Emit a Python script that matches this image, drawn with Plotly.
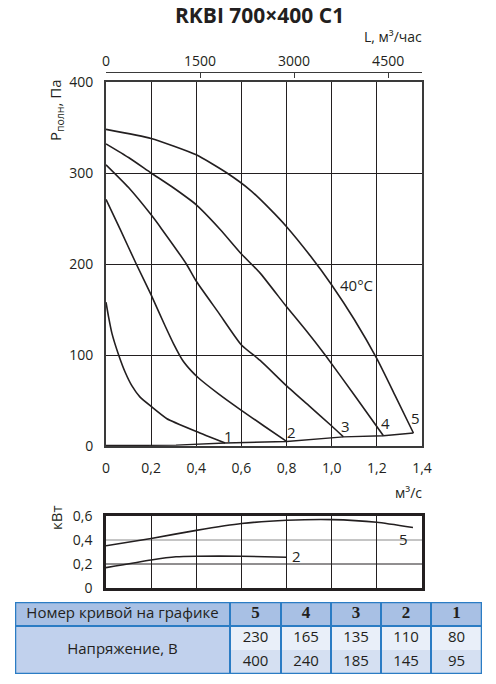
"""
RKBI 700x400 C1 - fan performance curves, power curves and voltage table
"""

import plotly.graph_objects as go

W, H = 496, 684

# pressure curves (flow m3/s -> total pressure Pa)
q1 = [0, 0.012, 0.026, 0.056, 0.085, 0.115, 0.15, 0.2, 0.27, 0.4, 0.528]
p1 = [158, 141, 124, 100, 81, 66, 54, 43.5, 30, 16, 3.3]

q2 = [0, 0.063, 0.134, 0.2, 0.26, 0.3, 0.34, 0.38, 0.41, 0.5, 0.595, 0.7, 0.8]
p2 = [271, 238, 200, 166, 133, 112, 94, 82, 74.7, 57, 40, 22, 5]

q3 = [0, 0.1, 0.2, 0.248, 0.356, 0.4, 0.5, 0.6, 0.683, 0.8, 0.9, 1.0, 1.052]
p3 = [309, 284, 254, 238, 200, 181, 146, 111, 94, 66, 44, 22, 10]

q4 = [0, 0.1, 0.2, 0.3, 0.4, 0.506, 0.6, 0.683, 0.8, 0.883, 0.971, 1.1, 1.229]
p4 = [332, 317, 300, 283.5, 265, 238, 211, 190, 153, 128, 100, 56, 11.3]

q5 = [0, 0.2, 0.4, 0.536, 0.64, 0.728, 0.8, 0.905, 1.0, 1.1, 1.2, 1.28, 1.362]
p5 = [348, 338, 320, 300, 281, 260, 241, 209, 177, 139, 96, 56, 14.3]

# line joining the curve ends
q_end = [0, 0.31, 0.528, 0.8, 1.052, 1.229, 1.362]
p_end = [0.5, 1, 3.3, 5, 10, 11.3, 14.3]

# power curves (kW)
qw5 = [0, 0.2, 0.4, 0.6, 0.8, 1.0, 1.2, 1.36]
kw5 = [0.352, 0.413, 0.48, 0.537, 0.564, 0.57, 0.548, 0.504]
qw2 = [0, 0.2, 0.31, 0.4, 0.6, 0.8]
kw2 = [0.17, 0.234, 0.26, 0.265, 0.265, 0.256]

# ticks
x_ticks = [0, 0.2, 0.4, 0.6, 0.8, 1.0, 1.2, 1.4]
x_ticklabels = ['0', '0,2', '0,4', '0,6', '0,8', '1,0', '1,2', '1,4']
p_ticks = [0, 100, 200, 300, 400]
p_ticklabels = ['0', '100', '200', '300', '400']
kw_ticks = [0, 0.2, 0.4, 0.6]
kw_ticklabels = ['0', '0,2', '0,4', '0,6']
l_ticks = [0, 1500, 3000, 4500]
l_ticklabels = ['0', '1500', '3000', '4500']

# table
table_head = 'Номер кривой на графике'
row_label = 'Напряжение, В'
curve_numbers = ['5', '4', '3', '2', '1']
voltage_low = [230, 165, 135, 110, 80]
voltage_high = [400, 240, 185, 145, 95]

INK = '#231f20'
FONT = 'Open Sans'


def px(x):
    return x / W


def py(y):
    return 1 - y / H


fig = go.Figure()

line_style = dict(color=INK, width=1.6, shape='spline', smoothing=0.5)
for q, p in [(q1, p1), (q2, p2), (q3, p3), (q4, p4), (q5, p5)]:
    fig.add_trace(go.Scatter(x=q, y=p, mode='lines', line=line_style,
                             showlegend=False, hoverinfo='skip'))
fig.add_trace(go.Scatter(x=q_end, y=p_end, mode='lines',
                         line=dict(color=INK, width=1.4),
                         showlegend=False, hoverinfo='skip'))

# hidden helper so the m3/h axis gets drawn
fig.add_trace(go.Scatter(x=[v * 3600 for v in q5], y=p5, xaxis='x3', yaxis='y',
                         mode='lines', opacity=0, showlegend=False,
                         hoverinfo='skip'))

for q, k in [(qw5, kw5), (qw2, kw2)]:
    fig.add_trace(go.Scatter(x=q, y=k, xaxis='x2', yaxis='y2', mode='lines',
                             line=line_style, showlegend=False,
                             hoverinfo='skip'))

# power chart horizontal grid: 0,2 black, 0,4 grey
for v, c in zip(kw_ticks[1:3], [INK, '#8a8a8a']):
    fig.add_shape(type='line', xref='x2 domain', yref='y2', x0=0, x1=1,
                  y0=v, y1=v, layer='below', line=dict(color=c, width=1))

# ---- voltage table on its own hidden axes (x: px units, y: row index) ----
col_w = [215, 51, 50, 50, 50, 51]
edges = [0]
for w in col_w:
    edges.append(edges[-1] + w)
centers = [(a + b) / 2 for a, b in zip(edges[:-1], edges[1:])]

head_fill = '#a8c0e4'
label_fill = '#c1d1ed'
row1_fill = '#e9eff9'
row2_fill = '#d5e0f2'
blue = '#2b7cc4'

cell_fills = []
for i in range(len(col_w)):
    cell_fills.append((i, 0, 1, head_fill))
    if i == 0:
        cell_fills.append((i, 1, 3, label_fill))
    else:
        cell_fills.append((i, 1, 2, row1_fill))
        cell_fills.append((i, 2, 3, row2_fill))
for i, r0, r1, color in cell_fills:
    fig.add_shape(type='rect', xref='x4', yref='y4', layer='below',
                  x0=edges[i], x1=edges[i + 1], y0=r0, y1=r1,
                  fillcolor=color, line=dict(width=0))

for e in edges[1:-1]:
    fig.add_shape(type='line', xref='x4', yref='y4', x0=e, x1=e, y0=0, y1=3,
                  line=dict(color=blue, width=2))
fig.add_shape(type='line', xref='x4', yref='y4', x0=0, x1=edges[-1], y0=1, y1=1,
              line=dict(color=blue, width=2))
fig.add_shape(type='rect', xref='x4', yref='y4', x0=0, x1=edges[-1], y0=0, y1=3,
              line=dict(color=blue, width=2.5))

fig.add_trace(go.Scatter(x=[centers[0], centers[0]], y=[0.5, 2.0],
                         text=[table_head, row_label], mode='text',
                         textfont=dict(family=FONT, size=15, color=INK),
                         xaxis='x4', yaxis='y4', showlegend=False,
                         hoverinfo='skip'))
fig.add_trace(go.Scatter(x=centers[1:], y=[0.5] * len(curve_numbers),
                         text=['<b>%s</b>' % n for n in curve_numbers],
                         mode='text',
                         textfont=dict(family='Liberation Serif', size=17, color=INK),
                         xaxis='x4', yaxis='y4', showlegend=False,
                         hoverinfo='skip'))
fig.add_trace(go.Scatter(x=centers[1:] + centers[1:],
                         y=[1.5] * len(voltage_low) + [2.5] * len(voltage_high),
                         text=[str(v) for v in voltage_low + voltage_high],
                         mode='text',
                         textfont=dict(family=FONT, size=15, color=INK),
                         xaxis='x4', yaxis='y4', showlegend=False,
                         hoverinfo='skip'))

axis_common = dict(
    showgrid=True, gridcolor=INK, gridwidth=1,
    showline=True, linecolor='#3a3a3a', linewidth=2, mirror=True,
    zeroline=False, ticks='', automargin=False,
    tickfont=dict(family=FONT, size=14, color=INK),
)

fig.update_layout(
    width=W, height=H,
    margin=dict(l=0, r=0, t=0, b=0),
    paper_bgcolor='white', plot_bgcolor='white',
    font=dict(family=FONT, color=INK),
    xaxis=dict(axis_common, domain=[px(106), px(422)], range=[0, 1.4],
               tickvals=x_ticks, ticktext=x_ticklabels, anchor='y',
               ticklabelstandoff=8),
    yaxis=dict(axis_common, domain=[py(446), py(82)], range=[0, 400],
               tickvals=p_ticks, ticktext=p_ticklabels, anchor='x',
               ticklabelstandoff=8),
    xaxis2=dict(axis_common, domain=[px(106), px(422)], range=[0, 1.4],
                tickvals=x_ticks, showticklabels=False, anchor='y2',
                linecolor=INK, linewidth=2.5),
    yaxis2=dict(axis_common, domain=[py(588), py(516)], range=[0, 0.6],
                tickvals=kw_ticks, ticktext=kw_ticklabels, anchor='x2',
                ticklabelstandoff=8, showgrid=False,
                linecolor=INK, linewidth=2.5),
    xaxis3=dict(overlaying='x', side='top', anchor='free', position=py(72),
                range=[0, 1.4 * 3600], tickvals=l_ticks, ticktext=l_ticklabels,
                showgrid=False, zeroline=False, showline=True, automargin=False,
                linecolor='#3a3a3a', linewidth=1, ticks='inside', ticklen=5,
                tickcolor='#3a3a3a', tickfont=dict(family=FONT, size=14, color=INK)),
    xaxis4=dict(domain=[px(15), px(482)], range=[0, edges[-1]], visible=False,
                anchor='y4', fixedrange=True),
    yaxis4=dict(domain=[py(674), py(602)], range=[3, 0], visible=False,
                anchor='x4', fixedrange=True),
)

ann = []
ann.append(dict(text='<b>RKBI 700×400 C1</b>', x=px(259), y=py(15),
                font=dict(family=FONT, size=21, color=INK)))
ann.append(dict(text='L, м³/час', x=px(424), y=py(37), xanchor='right',
                font=dict(size=14)))
ann.append(dict(text='м³/с', x=px(424), y=py(493), xanchor='right',
                font=dict(size=14)))
ann.append(dict(text='Р<sub>полн</sub>, Па', x=px(56), y=py(110), textangle=-90,
                font=dict(size=15)))
ann.append(dict(text='кВт', x=px(56), y=py(518), textangle=-90,
                font=dict(size=15)))

# curve numbers and temperature label
ann_data = [('1', 0.543, 11), ('2', 0.824, 15), ('3', 1.06, 22),
            ('4', 1.237, 25), ('5', 1.373, 31), ('40°C', 1.11, 177)]
for txt, ax, ay in ann_data:
    ann.append(dict(text=txt, x=ax, y=ay, xref='x', yref='y',
                    font=dict(size=15)))
ann.append(dict(text='5', x=1.32, y=0.41, xref='x2', yref='y2', font=dict(size=15)))
ann.append(dict(text='2', x=0.845, y=0.27, xref='x2', yref='y2', font=dict(size=15)))

for a in ann:
    a.setdefault('xref', 'paper')
    a.setdefault('yref', 'paper')
    a.setdefault('xanchor', 'center')
    a.setdefault('yanchor', 'middle')
    a.setdefault('showarrow', False)
    fig.add_annotation(**a)

fig.write_html("out.html", config={'displayModeBar': False}, post_script=(
    "document.body.style.margin='0';"
    "document.body.style.overflow='hidden';"))
